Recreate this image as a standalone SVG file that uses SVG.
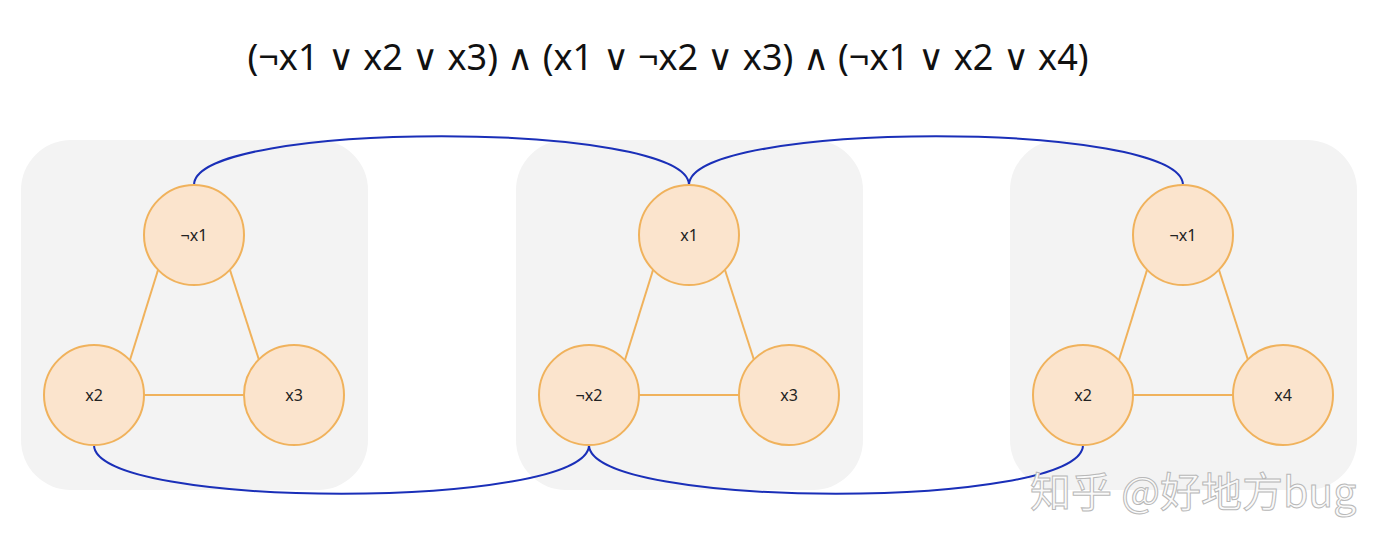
<svg xmlns="http://www.w3.org/2000/svg" width="1393" height="554" viewBox="0 0 1393 554">
<defs>
<style>
.panel{fill:#f3f3f3;}
.node circle{fill:#fbe4cd;stroke:#f0b25c;stroke-width:2;}
.node text{font-family:"Noto Sans","Liberation Sans",sans-serif;font-size:16px;fill:#222;text-anchor:middle;dominant-baseline:central;}
.edge{stroke:#f0b25c;stroke-width:2;fill:none;}
.link{stroke:#1a2fb8;stroke-width:2;fill:none;}
.title{font-family:"Noto Sans","Liberation Sans",sans-serif;font-size:36px;fill:#111;text-anchor:middle;}
.wm{font-family:"Noto Sans CJK SC","Noto Sans",sans-serif;font-size:41px;fill:#fafafa;stroke:#b8b8b8;stroke-width:1;}
</style>
</defs>
<rect width="1393" height="554" fill="#ffffff"/>
<text class="title" x="668" y="70">(¬x1 ∨ x2 ∨ x3) ∧ (x1 ∨ ¬x2 ∨ x3) ∧ (¬x1 ∨ x2 ∨ x4)</text>
<g id="panels">
<rect class="panel" x="21" y="140" width="347" height="350" rx="50"/>
<rect class="panel" x="516" y="140" width="347" height="350" rx="50"/>
<rect class="panel" x="1010" y="140" width="347" height="350" rx="50"/>
</g>
<g id="connectors">
<line class="edge" x1="158" y1="270" x2="130" y2="360"/>
<line class="edge" x1="230" y1="270" x2="259" y2="360"/>
<line class="edge" x1="144" y1="395" x2="244" y2="395"/>
<line class="edge" x1="653" y1="270" x2="625" y2="360"/>
<line class="edge" x1="725" y1="270" x2="754" y2="360"/>
<line class="edge" x1="639" y1="395" x2="739" y2="395"/>
<line class="edge" x1="1147" y1="270" x2="1119" y2="360"/>
<line class="edge" x1="1219" y1="270" x2="1248" y2="360"/>
<line class="edge" x1="1133" y1="395" x2="1233" y2="395"/>
<path class="link" d="M194 185 C194 120 689 120 689 185"/>
<path class="link" d="M689 185 C689 120 1183 120 1183 185"/>
<path class="link" d="M94 445 C94 510 589 510 589 445"/>
<path class="link" d="M589 445 C589 510 1083 510 1083 445"/>
</g>
<g id="n1" class="node"><circle cx="194" cy="235" r="50"/><text x="194" y="235">¬x1</text></g>
<g id="n2" class="node"><circle cx="94" cy="395" r="50"/><text x="94" y="395">x2</text></g>
<g id="n3" class="node"><circle cx="294" cy="395" r="50"/><text x="294" y="395">x3</text></g>
<g id="n4" class="node"><circle cx="689" cy="235" r="50"/><text x="689" y="235">x1</text></g>
<g id="n5" class="node"><circle cx="589" cy="395" r="50"/><text x="589" y="395">¬x2</text></g>
<g id="n6" class="node"><circle cx="789" cy="395" r="50"/><text x="789" y="395">x3</text></g>
<g id="n7" class="node"><circle cx="1183" cy="235" r="50"/><text x="1183" y="235">¬x1</text></g>
<g id="n8" class="node"><circle cx="1083" cy="395" r="50"/><text x="1083" y="395">x2</text></g>
<g id="n9" class="node"><circle cx="1283" cy="395" r="50"/><text x="1283" y="395">x4</text></g>
<text class="wm" x="1030" y="507">知乎 @好地方bug</text>
</svg>
